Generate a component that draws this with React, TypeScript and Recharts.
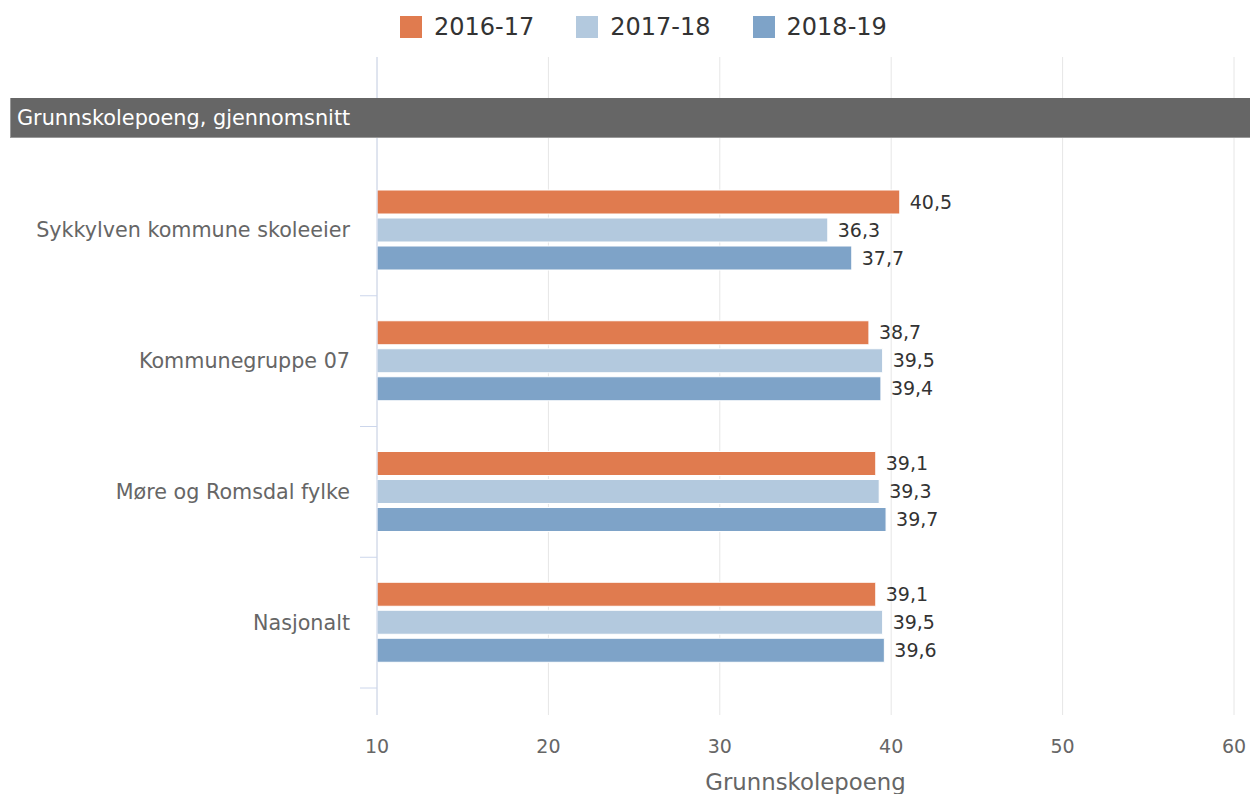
import { BarChart, Bar, XAxis, YAxis, CartesianGrid, Legend, LabelList } from 'recharts'

const categories = ['Sykkylven kommune skoleeier', 'Kommunegruppe 07', 'Møre og Romsdal fylke', 'Nasjonalt']
const v2016 = [40.5, 38.7, 39.1, 39.1]
const v2017 = [36.3, 39.5, 39.3, 39.5]
const v2018 = [37.7, 39.4, 39.7, 39.6]
const xTicks = [10, 20, 30, 40, 50, 60]

const series = [
  { key: 's2016', name: '2016-17', color: '#E07B4F' },
  { key: 's2017', name: '2017-18', color: '#B3C9DE' },
  { key: 's2018', name: '2018-19', color: '#7EA3C8' },
]

const data = categories.map((name, i) => ({ name, s2016: v2016[i], s2017: v2017[i], s2018: v2018[i] }))

const FONT = '"DejaVu Sans", Verdana, sans-serif'

const fmt = (v: any) => String(v).replace('.', ',')

function CategoryTick(props: any) {
  const { x, y, payload } = props
  const half = payload?.offset ?? 65
  return (
    <g>
      <text x={x - 27} y={y} dy={7} textAnchor="end" fill="#666" fontSize={20.7} fontFamily={FONT}>
        {payload.value}
      </text>
      <line x1={x - 17} x2={x} y1={y + half} y2={y + half} stroke="#ccd6eb" strokeWidth={1} />
    </g>
  )
}

function LegendContent() {
  return (
    <div style={{ height: 50, display: 'flex', alignItems: 'flex-start', paddingLeft: 400, fontFamily: FONT }}>
      {series.map((s) => (
        <div key={s.key} style={{ display: 'flex', alignItems: 'center', height: 40, marginRight: 42 }}>
          <span style={{ width: 22, height: 22, background: s.color, display: 'inline-block', marginRight: 12 }} />
          <span style={{ fontSize: 24, color: '#333' }}>{s.name}</span>
        </div>
      ))}
    </div>
  )
}

export default function App() {
  return (
    <div style={{ position: 'absolute', left: 0, top: 0, width: 1250, height: 794, fontFamily: FONT, background: '#fff' }}>
      <BarChart
        width={1250}
        height={794}
        data={data}
        layout="vertical"
        margin={{ top: 7, right: 16, bottom: 0, left: 0 }}
        barSize={24}
        barGap={4}
      >
        <CartesianGrid horizontal={false} stroke="#e6e6e6" />
        <XAxis
          type="number"
          domain={[10, 60]}
          ticks={xTicks}
          axisLine={false}
          tickLine={false}
          tickSize={0}
          tickMargin={25}
          height={79}
          tick={{ fill: '#666', fontSize: 19, fontFamily: FONT }}
          label={{ value: 'Grunnskolepoeng', position: 'insideBottom', offset: 4, fill: '#666', fontSize: 22.8, fontFamily: FONT }}
        />
        <YAxis
          type="category"
          dataKey="name"
          width={377}
          axisLine={{ stroke: '#ccd6eb' }}
          tickLine={false}
          tickSize={0}
          tickMargin={0}
          padding={{ top: 108, bottom: 27 }}
          tick={<CategoryTick />}
        />
        <Legend verticalAlign="top" align="left" wrapperStyle={{ left: 0, width: 1250 }} content={<LegendContent />} />
        {series.map((s) => (
          <Bar key={s.key} dataKey={s.key} name={s.name} fill={s.color} stroke="#fff" strokeWidth={1} isAnimationActive={false}>
            <LabelList dataKey={s.key} position="right" offset={10} fill="#333" fontSize={19} fontFamily={FONT} formatter={fmt} />
          </Bar>
        ))}
      </BarChart>
      <div
        style={{
          position: 'absolute',
          left: 10,
          top: 98,
          width: 1240,
          height: 40,
          boxSizing: 'border-box',
          background: '#666',
          color: '#fff',
          fontSize: 20.8,
          lineHeight: '40px',
          paddingLeft: 6,
          borderBottom: '1px solid #999',
          borderLeft: '1px solid #999',
        }}
      >
        Grunnskolepoeng, gjennomsnitt
      </div>
    </div>
  )
}
